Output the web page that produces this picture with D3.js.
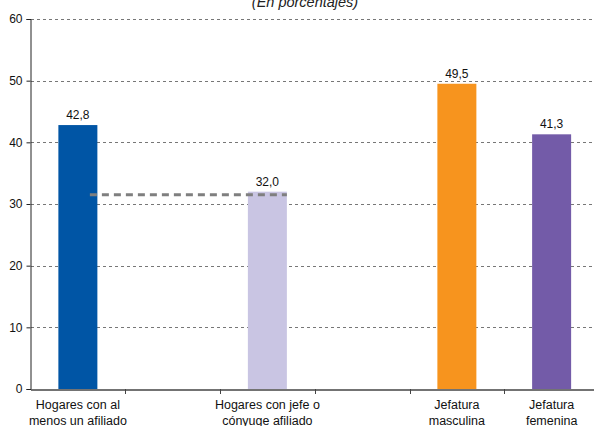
<!DOCTYPE html>
<html><head><meta charset="utf-8">
<script src="https://cdn.jsdelivr.net/npm/d3@7"></script>
<style>body{margin:0;background:#fff}svg{display:block;font-family:"Liberation Sans",Arial,sans-serif}</style>
</head><body>
<svg id="c" width="594" height="426"></svg>
<script>
const categories = ["c1","c2","c3","c4","c5","c6"];
const catLabels = [["Hogares con al","menos un afiliado"],[],["Hogares con jefe o","cónyuge afiliado"],[],["Jefatura","masculina"],["Jefatura","femenina"]];
const barCats = ["c1","c3","c5","c6"];
const barValues = [42.8, 32.0, 49.5, 41.3];
const barLabels = ["42,8","32,0","49,5","41,3"];
const barColors = ["#0055A5","#C9C5E3","#F7941E","#735BA8"];
const yTicks = [0,10,20,30,40,50,60];
const refValue = 31.5;
const title = "(En porcentajes)";

const svg = d3.select("#c");
const x = d3.scaleBand().domain(categories).range([30.5, 599]).paddingInner(0).paddingOuter(0);
const y = d3.scaleLinear().domain([0,60]).range([389, 19]);
const bw = 39;

svg.append("text").attr("x",305).attr("y",7).attr("text-anchor","middle")
  .attr("font-size",14.5).attr("font-style","italic").attr("fill","#222").text(title);

// gridlines
svg.append("g").selectAll("line").data(yTicks.filter(d=>d>0)).join("line")
  .attr("x1",31).attr("x2",594).attr("y1",d=>Math.round(y(d))+0.5).attr("y2",d=>Math.round(y(d))+0.5)
  .attr("stroke","#777").attr("stroke-width",1).attr("stroke-dasharray","3,3");

// bars
svg.append("g").selectAll("rect").data(barValues).join("rect")
  .attr("x",(d,i)=>x(barCats[i])+x.bandwidth()/2-bw/2).attr("width",bw)
  .attr("y",d=>y(d)).attr("height",d=>y(0)-y(d))
  .attr("fill",(d,i)=>barColors[i]);

svg.append("g").selectAll("text").data(barValues).join("text")
  .attr("x",(d,i)=>x(barCats[i])+x.bandwidth()/2).attr("y",d=>y(d)-6)
  .attr("text-anchor","middle").attr("font-size",12).attr("fill","#111")
  .text((d,i)=>barLabels[i]);

// reference dashed line
svg.append("line")
  .attr("x1",x("c1")+x.bandwidth()/2+12).attr("x2",x("c3")+x.bandwidth()/2+bw/2)
  .attr("y1",y(refValue)).attr("y2",y(refValue))
  .attr("stroke","#7f7f7f").attr("stroke-width",3).attr("stroke-dasharray","7,5");

// y axis
const ya = svg.append("g").attr("transform","translate(30.5,0)")
  .call(d3.axisLeft(y).tickValues(yTicks).tickSize(4).tickPadding(4).tickFormat(d3.format("d")));
ya.select(".domain").attr("stroke","#222");
ya.selectAll(".tick line").attr("stroke","#222");
ya.selectAll("text").attr("font-size",12).attr("fill","#111").attr("font-family","Liberation Sans, Arial, sans-serif");

// x axis
const xa = svg.append("g").attr("transform","translate(0,389.5)")
  .call(d3.axisBottom(x).tickSize(0).tickFormat(""));
xa.select(".domain").attr("stroke","#444").attr("stroke-width",1.5);
svg.append("g").selectAll("line").data(categories.slice(1)).join("line")
  .attr("x1",d=>Math.round(x(d))+0.5).attr("x2",d=>Math.round(x(d))+0.5)
  .attr("y1",389).attr("y2",394).attr("stroke","#444");

const lab = svg.append("g").selectAll("text").data(categories).join("text")
  .attr("x",d=>x(d)+x.bandwidth()/2).attr("y",409).attr("text-anchor","middle")
  .attr("font-size",12.5).attr("fill","#111");
lab.each(function(d,i){
  const t = d3.select(this);
  catLabels[i].forEach((s,k)=>t.append("tspan").attr("x",x(d)+x.bandwidth()/2).attr("dy",k?15.5:0).text(s));
});
</script>
</body></html>
